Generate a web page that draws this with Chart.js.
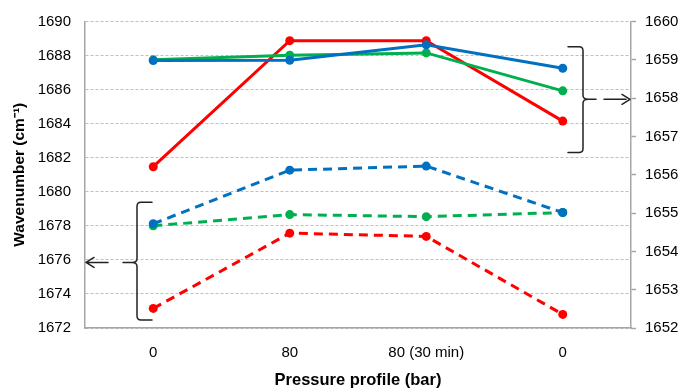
<!DOCTYPE html>
<html>
<head>
<meta charset="utf-8">
<script src="https://cdn.jsdelivr.net/npm/chart.js@4/dist/chart.umd.min.js"></script>
<style>
  html, body { margin: 0; padding: 0; background: #fff; }
  #wrap { width: 681px; height: 390px; position: relative; }
</style>
</head>
<body>
<div id="wrap"><canvas id="c" width="681" height="390"></canvas></div>
<script>
// Pressure steps
const categories = ['0', '80', '80 (30 min)', '0'];

// Upper band (right axis, solid lines)
const solidRed   = [1656.21, 1659.50, 1659.50, 1657.40];
const solidGreen = [1659.00, 1659.12, 1659.18, 1658.19];
const solidBlue  = [1658.98, 1658.99, 1659.39, 1658.78];

// Lower band (left axis, dashed lines)
const dashedRed   = [1673.15, 1677.57, 1677.38, 1672.80];
const dashedGreen = [1678.00, 1678.66, 1678.54, 1678.78];
const dashedBlue  = [1678.12, 1681.27, 1681.51, 1678.78];

// Axis ticks
const leftTicks  = [1672, 1674, 1676, 1678, 1680, 1682, 1684, 1686, 1688, 1690];
const rightTicks = [1652, 1653, 1654, 1655, 1656, 1657, 1658, 1659, 1660];

const RED = '#ff0000', GREEN = '#00b050', BLUE = '#0070c0';
const AXIS_GREY = '#a6a6a6';

Chart.defaults.font.family = '"Liberation Sans", Arial, sans-serif';
Chart.defaults.color = '#000';

function series(label, data, color, axis, dashed, order) {
  return {
    label, data, yAxisID: axis, order,
    borderColor: color, backgroundColor: color,
    borderWidth: 3,
    borderDash: dashed ? [9, 6] : [],
    pointRadius: 4.5, pointHoverRadius: 4.5,
    pointBorderWidth: 0,
    pointBackgroundColor: color,
    tension: 0, fill: false
  };
}

// Brackets grouping each band with an arrow toward its axis
const bracketPlugin = {
  id: 'bandBrackets',
  afterDatasetsDraw(chart) {
    const { ctx, chartArea, scales } = chart;
    const yL = scales.y, yR = scales.y1;
    ctx.save();
    ctx.strokeStyle = '#222';
    ctx.lineWidth = 1.5;
    ctx.lineCap = 'round';
    ctx.lineJoin = 'round';

    // Right bracket "}" around the solid lines
    {
      const xv = chartArea.right - 48;
      const arm = 15, r = 4, nib = 5;
      const yt = yR.getPixelForValue(1659.34);
      const yb = yR.getPixelForValue(1656.58);
      const ym = yR.getPixelForValue(1657.97);
      ctx.beginPath();
      ctx.moveTo(xv - arm, yt);
      ctx.lineTo(xv - r, yt);
      ctx.quadraticCurveTo(xv, yt, xv, yt + r);
      ctx.lineTo(xv, ym - r);
      ctx.quadraticCurveTo(xv, ym, xv + nib, ym);
      ctx.lineTo(xv + nib + 8, ym);
      ctx.moveTo(xv + nib, ym);
      ctx.quadraticCurveTo(xv, ym, xv, ym + r);
      ctx.lineTo(xv, yb - r);
      ctx.quadraticCurveTo(xv, yb, xv - r, yb);
      ctx.lineTo(xv - arm, yb);
      ctx.stroke();

      // dashed arrow to the right axis
      const xa = chartArea.right - 1;
      ctx.beginPath();
      ctx.setLineDash([22, 6]);
      ctx.moveTo(xv + nib + 16, ym);
      ctx.lineTo(xa - 1, ym);
      ctx.stroke();
      ctx.setLineDash([]);
      ctx.beginPath();
      ctx.moveTo(xa - 8, ym - 5);
      ctx.lineTo(xa, ym);
      ctx.lineTo(xa - 8, ym + 5);
      ctx.stroke();
    }

    // Left bracket "{" around the dashed lines
    {
      const xv = chartArea.left + 52;
      const arm = 15, r = 4, nib = 14;
      const yt = yL.getPixelForValue(1679.38);
      const yb = yL.getPixelForValue(1672.47);
      const ym = yL.getPixelForValue(1675.85);
      ctx.beginPath();
      ctx.moveTo(xv + arm, yt);
      ctx.lineTo(xv + r, yt);
      ctx.quadraticCurveTo(xv, yt, xv, yt + r);
      ctx.lineTo(xv, ym - r);
      ctx.quadraticCurveTo(xv, ym, xv - 5, ym);
      ctx.lineTo(xv - nib, ym);
      ctx.moveTo(xv - 5, ym);
      ctx.quadraticCurveTo(xv, ym, xv, ym + r);
      ctx.lineTo(xv, yb - r);
      ctx.quadraticCurveTo(xv, yb, xv + r, yb);
      ctx.lineTo(xv + arm, yb);
      ctx.stroke();

      // solid arrow to the left axis
      const xa = chartArea.left + 1;
      ctx.beginPath();
      ctx.moveTo(xa + 22, ym);
      ctx.lineTo(xa, ym);
      ctx.moveTo(xa + 8, ym - 5);
      ctx.lineTo(xa, ym);
      ctx.lineTo(xa + 8, ym + 5);
      ctx.stroke();
    }
    ctx.restore();
  }
};

new Chart(document.getElementById('c'), {
  type: 'line',
  data: {
    labels: categories,
    datasets: [
      series('1659 red', solidRed, RED, 'y1', false, 5),
      series('1659 green', solidGreen, GREEN, 'y1', false, 4),
      series('1659 blue', solidBlue, BLUE, 'y1', false, 3),
      series('1678 red', dashedRed, RED, 'y', true, 2),
      series('1678 green', dashedGreen, GREEN, 'y', true, 1),
      series('1678 blue', dashedBlue, BLUE, 'y', true, 0)
    ]
  },
  options: {
    responsive: false,
    animation: false,
    events: [],
    layout: { padding: { top: 20, right: 0, bottom: 0, left: 0 } },
    plugins: { legend: { display: false }, tooltip: { enabled: false } },
    scales: {
      x: {
        offset: true,
        grid: { display: false, drawTicks: false },
        border: { display: true, color: AXIS_GREY, width: 1.5 },
        ticks: { font: { size: 15 }, color: '#000', padding: 16, maxRotation: 0, autoSkip: false },
        title: {
          display: true, text: 'Pressure profile (bar)',
          font: { size: 16.5, weight: 'bold' }, color: '#000',
          padding: { top: 6, bottom: 0 }
        },
        afterFit(s) { s.height = 62; }
      },
      y: {
        position: 'left',
        min: 1672, max: 1690,
        afterBuildTicks(s) { s.ticks = leftTicks.map(v => ({ value: v })); },
        grid: { color: '#bfbfbf', lineWidth: 1, drawTicks: false },
        border: { display: true, color: AXIS_GREY, width: 1.5, dash: [3, 2] },
        ticks: { font: { size: 15, lineHeight: 1 }, color: '#000', padding: 14, callback: v => String(v) },
        title: {
          display: true, text: 'Wavenumber (cm\u207B\u00B9)',
          font: { size: 15.5, weight: 'bold' }, color: '#000',
          padding: { top: 10, bottom: 0 }
        },
        afterFit(s) { s.width = 85; }
      },
      y1: {
        position: 'right',
        min: 1652, max: 1660,
        afterBuildTicks(s) { s.ticks = rightTicks.map(v => ({ value: v })); },
        grid: { drawOnChartArea: false, drawTicks: true, tickLength: 5, tickColor: AXIS_GREY, tickWidth: 1.5 },
        border: { display: true, color: AXIS_GREY, width: 1.5 },
        ticks: { font: { size: 15, lineHeight: 1 }, color: '#000', padding: 9, callback: v => String(v) },
        afterFit(s) { s.width = 50; }
      }
    }
  },
  plugins: [bracketPlugin]
});
</script>
</body>
</html>
